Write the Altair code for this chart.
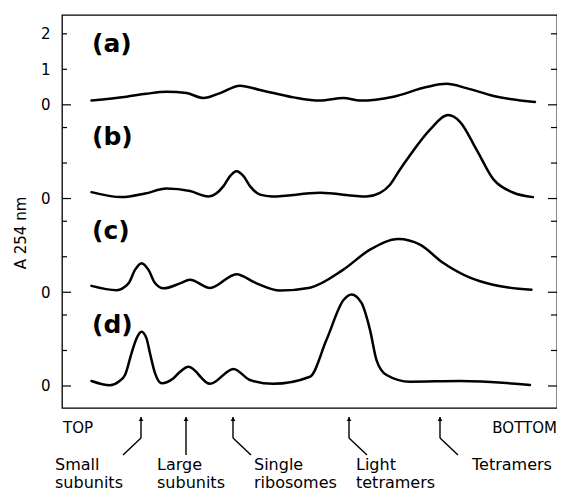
import altair as alt
import pandas as pd

# Gradient position (0 = top of tube, 99 = bottom) and A254 for each profile
a_x = [5.9, 12.9, 16.8, 20.9, 24.9, 28.3, 31.6, 35.6, 39.6, 46.3, 51.6, 56.3, 59.6, 66.3, 72.9, 76.9, 80.9, 86.3, 94.6]
a_y = [0.12, 0.23, 0.31, 0.37, 0.33, 0.19, 0.33, 0.54, 0.42, 0.21, 0.12, 0.19, 0.12, 0.23, 0.50, 0.59, 0.47, 0.25, 0.08]

b_x = [5.9, 11.9, 16.6, 20.9, 25.6, 29.3, 32.3, 33.6, 34.9, 36.3, 37.6, 39.6, 42.0, 51.6, 60.9, 63.6, 65.6, 67.6, 69.6, 73.6, 77.2, 79.6, 82.9, 86.3, 90.2, 94.2]
b_y = [0.18, 0.04, 0.14, 0.28, 0.21, 0.06, 0.35, 0.63, 0.77, 0.63, 0.35, 0.11, 0.06, 0.16, 0.06, 0.16, 0.39, 0.82, 1.22, 1.94, 2.35, 2.16, 1.38, 0.54, 0.17, 0.04]

c_x = [5.9, 10.9, 13.3, 14.6, 15.9, 17.3, 18.6, 20.3, 23.6, 25.6, 29.6, 34.9, 38.6, 43.6, 49.6, 56.2, 61.6, 67.3, 71.6, 76.2, 81.6, 86.2, 93.9]
c_y = [0.18, 0.06, 0.25, 0.63, 0.82, 0.63, 0.26, 0.11, 0.25, 0.35, 0.12, 0.51, 0.27, 0.05, 0.13, 0.63, 1.20, 1.50, 1.34, 0.83, 0.41, 0.21, 0.07]

d_x = [5.9, 9.6, 11.3, 12.6, 13.9, 14.9, 15.9, 16.9, 17.6, 18.6, 19.9, 22.3, 23.6, 25.3, 29.6, 34.3, 37.6, 42.2, 49.6, 52.9, 56.3, 57.9, 59.9, 61.6, 62.9, 64.9, 69.6, 79.6, 93.6]
d_y = [0.14, 0.02, 0.12, 0.31, 0.92, 1.34, 1.53, 1.34, 0.92, 0.36, 0.08, 0.22, 0.40, 0.54, 0.06, 0.48, 0.17, 0.06, 0.26, 1.30, 2.42, 2.58, 2.34, 1.58, 0.73, 0.31, 0.12, 0.14, 0.03]

panels = ["a", "b", "c", "d"]
panel_offsets = [7.92, 5.28, 2.64, 0.0]
panel_labels = ["(a)", "(b)", "(c)", "(d)"]

# Marked fractions below the plot
marker_names = ["Small\nsubunits", "Large\nsubunits", "Single\nribosomes", "Light\ntetramers", "Tetramers"]
marker_x = [15.8, 24.8, 34.2, 57.4, 75.6]
marker_bend_x = [12.2, 24.8, 37.8, 61.0, 79.2]
marker_text_x = [-1.4, 19.0, 38.4, 58.8, 82.0]

rows = []
for name, off, xs, ys in zip(panels, panel_offsets, [a_x, b_x, c_x, d_x], [a_y, b_y, c_y, d_y]):
    for x, y in zip(xs, ys):
        rows.append({"panel": name, "pos": x, "A": y, "offset": off})
df = pd.DataFrame(rows)

tick_rows = []
for name, off in zip(panels, panel_offsets):
    for lvl in [0, 1, 2]:
        tick_rows.append({"yv": off + lvl, "major": lvl == 0})
ticks_df = pd.DataFrame(tick_rows)
major_df = ticks_df[ticks_df["major"]]
minor_df = ticks_df[~ticks_df["major"]]

label_df = pd.DataFrame({"label": panel_labels, "offset": panel_offsets, "lx": [6.0] * 4})
mark_df = pd.DataFrame({"name": marker_names, "ax": marker_x, "bx": marker_bend_x, "tx": marker_text_x})

FONT = "DejaVu Sans"
x_scale = alt.Scale(domain=[0, 99], nice=False, zero=False)
y_scale = alt.Scale(domain=[-0.62, 10.45], nice=False, zero=False)
y_axis = alt.Axis(
    values=[0, 2.64, 5.28, 7.92, 8.92, 9.92],
    labelExpr="datum.value > 9.5 ? '2' : (datum.value > 8.5 ? '1' : '0')",
    ticks=False, domain=False, grid=False, title=None,
    labelFontSize=15, labelFont=FONT, labelColor="black", labelPadding=12,
)

curves = alt.Chart(df).transform_calculate(
    yplot="datum.A + datum.offset"
).mark_line(interpolate="monotone", color="black", strokeWidth=2.5, strokeCap="round").encode(
    x=alt.X("pos:Q", scale=x_scale, axis=None),
    y=alt.Y("yplot:Q", scale=y_scale, axis=y_axis),
    detail="panel:N",
)

tick_major_l = alt.Chart(major_df).mark_rule(color="black", strokeWidth=1.2).encode(
    y=alt.Y("yv:Q", scale=y_scale, axis=y_axis), x=alt.value(0), x2=alt.value(9))
tick_minor_l = alt.Chart(minor_df).mark_rule(color="black", strokeWidth=1.2).encode(
    y=alt.Y("yv:Q", scale=y_scale, axis=y_axis), x=alt.value(0), x2=alt.value(5))
tick_major_r = alt.Chart(major_df).mark_rule(color="black", strokeWidth=1.2).encode(
    y=alt.Y("yv:Q", scale=y_scale, axis=y_axis), x=alt.value(486), x2=alt.value(495))
tick_minor_r = alt.Chart(minor_df).mark_rule(color="black", strokeWidth=1.2).encode(
    y=alt.Y("yv:Q", scale=y_scale, axis=y_axis), x=alt.value(489), x2=alt.value(495))

plabels = alt.Chart(label_df).transform_calculate(
    ly="datum.offset + 1.72"
).mark_text(align="left", baseline="middle", fontSize=25, fontWeight="bold", font=FONT, color="black").encode(
    x=alt.X("lx:Q", scale=x_scale, axis=None),
    y=alt.Y("ly:Q", scale=y_scale, axis=y_axis),
    text="label:N",
)

arrow_v = alt.Chart(mark_df).mark_rule(color="black", strokeWidth=1.4).encode(
    x=alt.X("ax:Q", scale=x_scale, axis=None), y=alt.value(402), y2=alt.value(423))
arrow_d = alt.Chart(mark_df).mark_rule(color="black", strokeWidth=1.4).encode(
    x=alt.X("ax:Q", scale=x_scale, axis=None), x2="bx:Q", y=alt.value(423), y2=alt.value(440))
arrow_h = alt.Chart(mark_df).mark_point(shape="triangle-up", filled=True, color="black", size=22, opacity=1).encode(
    x=alt.X("ax:Q", scale=x_scale, axis=None), y=alt.value(404))
mtext = alt.Chart(mark_df).mark_text(align="left", baseline="alphabetic", fontSize=16, font=FONT,
                                     color="black", lineBreak="\n", lineHeight=18).encode(
    x=alt.X("tx:Q", scale=x_scale, axis=None), y=alt.value(455), text="name:N")

top_txt = alt.Chart(pd.DataFrame({"t": ["TOP"]})).mark_text(
    align="left", baseline="alphabetic", fontSize=15, font=FONT, color="black").encode(
    x=alt.value(1), y=alt.value(418), text="t:N")
bottom_txt = alt.Chart(pd.DataFrame({"t": ["BOTTOM"]})).mark_text(
    align="right", baseline="alphabetic", fontSize=15, font=FONT, color="black").encode(
    x=alt.value(495), y=alt.value(418), text="t:N")
ytitle = alt.Chart(pd.DataFrame({"t": ["A 254 nm"]})).mark_text(
    angle=270, align="center", baseline="middle", fontSize=15, font=FONT, color="black").encode(
    x=alt.value(-41), y=alt.value(218), text="t:N")

chart = alt.layer(
    curves, tick_major_l, tick_minor_l, tick_major_r, tick_minor_r, plabels,
    arrow_v, arrow_d, arrow_h, mtext, top_txt, bottom_txt, ytitle,
).properties(
    width=495, height=393,
    autosize=alt.AutoSizeParams(type="none"),
    padding={"left": 54, "top": 7, "right": 0, "bottom": 84},
    background="white",
).configure_view(stroke="black", strokeWidth=1.3)

chart.save("out.html", embed_options={"renderer": "svg", "actions": False})
